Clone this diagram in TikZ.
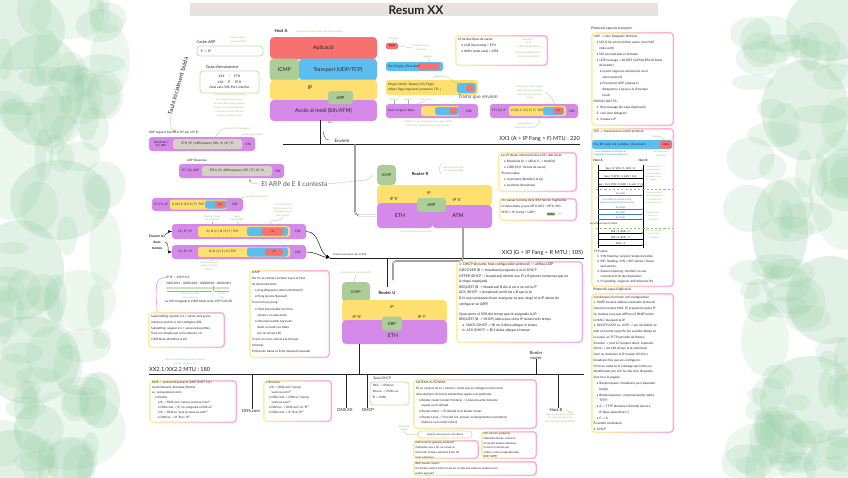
\documentclass[tikz,border=0pt]{standalone}
\usepackage{fontspec}
\setmainfont{Lato}
\usetikzlibrary{arrows.meta,positioning,calc}

\definecolor{lred}{RGB}{248,113,113}
\definecolor{lgreenf}{RGB}{172,205,152}
\definecolor{lblue}{RGB}{92,190,240}
\definecolor{lyel}{RGB}{253,224,112}
\definecolor{lpurp}{RGB}{213,137,232}
\definecolor{lgray}{RGB}{214,208,198}
\definecolor{tbar}{RGB}{233,226,224}
\definecolor{nyel}{RGB}{253,238,160}
\definecolor{npink}{RGB}{250,172,222}
\definecolor{pinkarr}{RGB}{246,150,210}
\definecolor{ngreen}{RGB}{140,195,110}
\definecolor{gborder}{RGB}{192,222,168}
\definecolor{ink}{RGB}{35,35,35}
\definecolor{seqblue}{RGB}{60,120,190}
\definecolor{wc1}{RGB}{150,205,165}
\definecolor{wc2}{RGB}{185,225,195}

\newcommand\ftitle{\fontsize{17}{17}\selectfont\bfseries}
\newcommand\flay{\fontsize{7.5}{8}\selectfont}
\newcommand\fhd{\fontsize{5.5}{6}\selectfont}
\newcommand\fbig{\fontsize{9.5}{10}\selectfont}
\newcommand\fbus{\fontsize{8}{9}\selectfont}
\newcommand\ffr{\fontsize{4.4}{5}\selectfont}
\newcommand\fgr{\fontsize{3.3}{5.2}\selectfont}
\newcommand\fseq{\fontsize{3.6}{4}\selectfont}

% marc de nota (groc -> rosa)
\newcommand\notebox[4]{%
  \shade[left color=nyel, right color=npink, rounded corners=2mm] (#1,#2) rectangle (#3,#4);
  \fill[white, rounded corners=1.5mm] ([shift={(1.5,1.5)}]#1,#2) rectangle ([shift={(-1.5,-1.5)}]#3,#4);}

\begin{document}
\begin{tikzpicture}[x=0.5mm, y=-0.5mm, >=Latex,
  layer/.style={rounded corners=2mm, inner sep=0pt, font=\flay, text=ink},
  tag/.style={font=\ffr, inner sep=0pt, text=ink},
  hd/.style={font=\fhd, inner sep=0pt, text=ink},
  body/.style={inner sep=0pt, align=left, anchor=north west, text=ink},
  gnote/.style={font=\fgr, inner sep=0pt, text=ngreen, align=center},
  gline/.style={draw=ngreen, line width=0.35pt},
  bus/.style={draw=ink, line width=1.1pt},
  rail/.style={draw=ink, line width=0.45pt, double=white, double distance=1.1pt},
  gbox/.style={draw=gborder, line width=1.1pt, rounded corners=1.5mm, fill=white},
  seq/.style={-{Latex[length=1.6pt,width=1.4pt]}, line width=0.35pt},
  pinkline/.style={draw=pinkarr, line width=0.9pt, -{Latex[length=2.5pt]}}]
\useasboundingbox (0,0) rectangle (848,477);

% fons d'aquarel.la
\begin{scope}[opacity=0.28]
\foreach \cx/\cy/\rx/\ry/\cc in {15/30/25/20/wc1, 70/15/20/12/wc2, 40/90/22/28/wc1, 10/160/18/30/wc2,
  60/200/25/20/wc1, 20/270/22/25/wc1, 80/300/18/15/wc2, 30/360/25/22/wc1, 70/430/28/20/wc2,
  15/460/20/15/wc1, 110/60/10/18/wc2, 105/250/8/20/wc2, 100/400/10/14/wc1,
  830/25/22/18/wc1, 770/40/15/12/wc2, 805/110/22/25/wc1, 845/190/18/30/wc2, 780/230/14/25/wc1,
  830/300/22/22/wc1, 765/340/12/18/wc2, 810/400/25/22/wc1, 765/450/20/14/wc2, 840/465/18/14/wc1}
  \fill[\cc] (\cx,\cy) ellipse [x radius=\rx mm, y radius=\ry mm];
\end{scope}
\pgfmathsetseed{12}
\begin{scope}[opacity=0.2]
\foreach \i in {1,...,70}{
  \pgfmathsetmacro\cx{rnd*110}
  \pgfmathsetmacro\cy{rnd*477}
  \pgfmathsetmacro\rx{3+rnd*11}
  \pgfmathsetmacro\ry{3+rnd*11}
  \fill[wc1] (\cx,\cy) ellipse [x radius=\rx mm, y radius=\ry mm];
  \pgfmathsetmacro\dx{745+rnd*103}
  \pgfmathsetmacro\dy{rnd*477}
  \fill[wc1] (\dx,\dy) ellipse [x radius=\ry mm, y radius=\rx mm];
}
\end{scope}

% titol
\fill[tbar] (190,3) rectangle (658,16);
\node[font=\ftitle, text=ink, inner sep=0pt] (title) at (416,10) {Resum XX};

% ---------------- Host A
\node[hd, font=\fontsize{6}{6}\selectfont\bfseries] (hostA) at (281,31) {Host A};
\node[gnote, anchor=west] (nhostA) at (296,32) {Host està en la xarxa XX1 i vol enviar a Host F};
\node[layer, fill=lred, minimum width=53.5mm, minimum height=11mm] (apl) at (323.5,48) {Aplicació};
\node[layer, fill=lgreenf, minimum width=15mm, minimum height=11mm] (icmpA) at (284.5,69.5) {ICMP};
\node[layer, fill=lblue, minimum width=39mm, minimum height=11mm] (tra) at (338,69.5) {Transport (UDP/TCP)};
\node[layer, fill=lyel, minimum width=53.5mm, minimum height=10.5mm] (ipA) at (323.5,90) {};
\node[layer] (ipAt) at (310,88) {IP};
\node[layer, fill=lpurp, minimum width=53.5mm, minimum height=10.5mm] (acc) at (323.5,110.5) {Accés al medi (Eth/ATM)};
\node[layer, fill=lgreenf, rounded corners=1.5mm, minimum width=12.5mm, minimum height=6.5mm, font=\fontsize{6}{6}\selectfont] (arpA) at (340.5,97.5) {ARP};

% bus XX1
\coordinate (b1w) at (283,144);
\coordinate (b1e) at (580,144);
\coordinate (accs) at (320,120);
\draw[bus] (b1w) -- (b1e);
\draw[bus] (accs) -- (accs |- b1w);
\node[tag, font=\fontsize{3.8}{4}\selectfont] (ens) at (330,123) {ens};
\draw[ink, line width=0.4pt] (323,131) to[out=-80,in=180] (329,140);
\node[tag, font=\fontsize{6.5}{7}\selectfont] (envien) at (342,141) {Enviem};
\node[tag, font=\fbus, anchor=east] (xx1) at (580,138.5) {XX1 (A > IP Fang > F) MTU : 220};

% ---------------- capcaleres (mig superior)
\node[fill=lred, rounded corners=0.8mm, inner sep=0pt, minimum width=6mm, minimum height=3.2mm, font=\fontsize{3.8}{4}\selectfont] (dada) at (392,46) {Dada};
\node[gnote] (nmis) at (394,39) {Missatge};
\draw[gline] (nmis.south) -- (dada.north);
\node[gnote] (ndada) at (421,48) {Dada de la capa\\d'aplicació};
\draw[gline] (ndada.west) to[out=180,in=0] (dada.east);

\fill[lblue, rounded corners=1.2mm] (386,62) rectangle (443,71);
\fill[lred, rounded corners=1mm] (418,63) rectangle (440,70);
\node[tag, anchor=west] (ports) at (388,66.5) {Port Origen | Port destí};
\node[gnote] (nseg) at (428,57) {Segment};
\draw[gline] (nseg.south) -- (430,62);

\fill[lyel, rounded corners=1.5mm] (386,80) rectangle (478,95);
\fill[lblue, rounded corners=1.2mm] (457,83) rectangle (476,93);
\fill[lred, rounded corners=1mm] (466,85) rectangle (474,91);
\node[tag, anchor=west, align=left, font=\fontsize{4.3}{7}\selectfont] (ipcap) at (388,87.5) {Origen | destí | Tamany | ID | Flags |\\offset | flags fragments | protocol | TTL |};
\node[gnote] (ndgr) at (440,77) {Datagrama};
\draw[gline] (ndgr.east) to[out=0,in=-90] (458,82);

\node[gnote] (nmacd) at (394,99.5) {MAC D};
\node[gnote] (nmaco) at (408,99.5) {MAC O};
\node[gnote] (ntip) at (426,99.5) {tipus trama};
\fill[lpurp, rounded corners=1.5mm] (386,104) rectangle (478,118);
\fill[lyel, rounded corners=1.2mm] (421,106) rectangle (459,116);
\fill[lblue, rounded corners=1.2mm] (435,107) rectangle (459,115);
\fill[lred, rounded corners=1mm] (450,108) rectangle (457,114);
\node[tag, anchor=west] (ethcap) at (388,111) {Dest | origen | tipus};
\node[tag] (crc1) at (469,111) {CRC};
\draw[gline] (nmacd.south) -- (394,104);
\draw[gline] (nmaco.south) -- (408,104);
\draw[gline] (ntip.south) -- (417,104);
\node[gnote] (narp) at (428,124) {Si l'ARP surt, han de preguntar per saber la MAC\\de la trama i després poder enviar la trama};
\node[tag, font=\fontsize{7}{7}\selectfont, text=ink!80] (trenv) at (478,97.5) {Trama que enviem};

% dos tipus de xarxa
\notebox{455}{35}{548}{66}
\node[body, font=\fontsize{4.6}{8.5}\selectfont] (xarxes) at (458,38) {Hi ha dos tipus de xarxa:\\\quad• LAN (local area) = ETH\\\quad• WAN (wide area) = ATM};
\node[gnote, anchor=north] (nfan) at (528,38.5) {Fan servir:\\- la IP\\- la MAC de destinació};
\node[gnote, anchor=north] (nper) at (528,52) {Per tenir la MAC de la IP\\destí fan servir l'ARP};

% trama fragmentada (dreta)
\node[gnote] (nmtu) at (530,92.5) {Com que MTU XX1 origen <\\dada, s'ha de fragmentar:\\supera el més petit de les\\xarxes};
\fill[lpurp, rounded corners=1.5mm] (490,104) rectangle (578,118);
\fill[lyel, rounded corners=1.2mm] (509,106) rectangle (566,116);
\fill[lblue, rounded corners=1.2mm] (543,107) rectangle (564,115);
\fill[lred, rounded corners=1mm] (553,108) rectangle (563,114);
\node[tag] (ffr) at (499,111) {FF | Fa | IP};
\node[tag] (abcr) at (527,111) {A | B | C | D | E | F | TCP};
\node[tag, font=\fontsize{3.5}{4}\selectfont] (ddr) at (558,111) {dd};
\node[tag] (crcr) at (572,111) {CRC};
\draw[gline] (nmtu.east) to[out=0,in=-90] (558,107);
\node[gnote] (ntrd) at (525,125.5) {Trama de dades\\(sense tocar res fora)};
\draw[gline] (ntrd.east) to[out=0,in=-90] (540,118);

% ---------------- taules (esquerra)
\node[hd] (cachel) at (206,42) {Cache ARP};
\draw[gbox] (197,46) rectangle (263,56);
\node[tag, anchor=west] (cache) at (200,51) {'E' -> PF};
\node[gnote] (ncache) at (238,40) {Aquí les que ja\\coneixem (MAC)};

\node[hd] (tenrl) at (222,67) {Taula d'enrutament};
\draw[gbox] (200,71) rectangle (259,93);
\node[tag, align=center, font=\fontsize{4.6}{8.5}\selectfont] (tenr) at (229.5,82) {XX1 \quad * \quad ETH\\XX1 \quad 'E' \quad ETH\\Dest xarx, MS/Port, interfac};
\node[gnote, anchor=north, font=\fontsize{3.3}{6}\selectfont] (ntenr) at (229.5,94) {Si el host no està en la mateixa\\xarxa XX1, la trama s'envia\\al router de la xarxa (gateway)\\segons la taula d'enrutament;\\com que no sap la MAC del\\router fa un ARP request};

\node[tag, font=\fontsize{8.5}{9}\selectfont, rotate=74] (tbuida) at (178,86) {Taula inicialment buida};
\draw[gline, ->] (tbuida.west) to[out=-80,in=180] (177,131);

% ARP request
\node[tag, anchor=west] (arpreql) at (149,133) {ARP request (Qui té la IP? per a IP E)};
\node[gnote] (nqui) at (237,129) {Qui té la IP E? (broadcast)};
\draw[gline] (nqui.west) to[out=180,in=-90] (214,137);
\node[gnote] (ntrl) at (253,135) {Trama capa d'enllaç};
\draw[gline] (ntrl.west) to[out=180,in=-90] (241,139);
\fill[lpurp, rounded corners=1.5mm] (149,137) rectangle (255,151);
\fill[lgray, rounded corners=1.2mm] (173,139) rectangle (242,149);
\node[tag, align=center, font=\fontsize{4}{5}\selectfont] (bcast) at (161,144) {Broadcast |\\Fa | ARP};
\node[tag] (arpreq) at (207.5,144) {ETH | IP | ARPrequest | IPA | 'A' | IP | 'E'};
\node[tag] (crcq) at (248.5,144) {CRC};

% ARP response
\node[tag] (arprespl) at (197,161) {ARP Response};
\fill[lpurp, rounded corners=1.5mm] (179,164) rectangle (284,178);
\fill[lgray, rounded corners=1.2mm] (202,166) rectangle (272,176);
\node[tag] (ffarp) at (190.5,171) {FF | Fa | ARP};
\node[tag] (arpresp) at (237,171) {ETH | IP | ARPresponse | IPE | 'E' | IP | 'A'};
\node[tag] (crcp) at (278,171) {CRC};
\node[tag, font=\fbig, text=ink!75] (elarp) at (294.5,184) {El ARP de E li contesta};
\draw[gline, ->] (elarp.west) to[out=180,in=-90] (250,178.5);
\draw[gline] (elarp.east) -- (366,180) to[out=0,in=-120] (372,175);
\node[gnote, anchor=west] (ngu) at (443,169) {Guarda la MAC de E\\a la seva taula ARP};
\draw[gline] (441,164) to[out=-120,in=120] (441,174);

% trames IP
\fill[lpurp, rounded corners=1.5mm] (152,198) rectangle (243,211);
\fill[lyel, rounded corners=1.2mm] (170,199.5) rectangle (227,209.5);
\fill[lblue, rounded corners=1.2mm] (205,200.5) rectangle (227,208.5);
\fill[lred, rounded corners=1mm] (215,201.5) rectangle (225,207.5);
\node[tag] (ip6) at (161,204.5) {IP | Fa | IP};
\node[tag] (abc6) at (188,204.5) {A | B | C | D | E | F | TCP};
\node[tag, font=\fontsize{3.5}{4}\selectfont] (dd6) at (220,204.5) {dd};
\node[tag] (crc6) at (235,204.5) {CRC};
\node[gnote] (napl) at (259,196.5) {dada a l'Aplicació};
\draw[gline] (napl.west) to[out=180,in=0] (227,201);

\node[gnote] (nfrag) at (283,210) {Com la MTU de la\\XX3 és menor, s'ha\\de fragmentar en\\dues trames};
\draw[gline] (nfrag.south) to[out=-90,in=90] (270,224);
\node[gnote] (ncap) at (212,218.5) {Capçalera IP per\\cada fragment};
\draw[gline] (ncap.south) -- (212,226);
\node[gnote] (ndfr) at (237,218.5) {dada\\fragmentada};
\draw[gline] (ndfr.south) -- (240,226);

\fill[lpurp, rounded corners=1.5mm] (172,224) rectangle (306,239);
\fill[lyel, rounded corners=1.2mm] (198,226) rectangle (290,237);
\fill[lblue, rounded corners=1.2mm] (247,227) rectangle (288,236);
\fill[lred, rounded corners=1mm] (262,228) rectangle (283,235);
\node[tag] (ip7) at (185,231.5) {Fa | IP | IP};
\node[tag] (abc7) at (222.5,231.5) {A | B | C | D | E | F | TCP};
\node[tag, font=\fontsize{3.5}{4}\selectfont] (dd7) at (272.5,231.5) {dd};
\node[tag] (crc7) at (298,231.5) {CRC};

\fill[lpurp, rounded corners=1.5mm] (172,245) rectangle (306,259);
\fill[lyel, rounded corners=1.2mm] (198,247) rectangle (290,257);
\fill[lblue, rounded corners=1.2mm] (247,247.5) rectangle (288,256.5);
\fill[lred, rounded corners=1mm] (265,248.5) rectangle (283,255.5);
\node[tag] (ip8) at (185,252) {Fa | IP | IP};
\node[tag] (abc8) at (222.5,252) {A | B | C | 1 | A | TCP};
\node[tag, font=\fontsize{3.5}{4}\selectfont] (dd8) at (274,252) {dd};
\node[tag] (crc8) at (298,252) {CRC};
\node[gnote] (nid) at (209,266) {Fragments amb la\\mateixa ID i offset\\diferent};
\draw[gline] (nid.north) to[out=90,in=-90] (214,259);

\coordinate (f7w) at (172,231.5);
\coordinate (f8w) at (172,252);
\coordinate (f7e) at (306,231.5);
\coordinate (f8e) at (306,252);
\node[tag, align=center, font=\fontsize{4.8}{8.5}\selectfont\bfseries] (enviem) at (157,242) {Enviem les\\dues\\trames};
\draw[->, line width=0.5pt] (enviem.north east) to[out=20,in=180] (f7w);
\draw[->, line width=0.5pt] (enviem.east) to[out=-10,in=180] (f8w);

% bus XX3
\coordinate (join) at (330,258);
\coordinate (b2e) at (584,258);
\draw[bus] (join) -- (b2e);
\draw[->, line width=0.6pt] (f7e) to[out=0,in=150] (join);
\draw[->, line width=0.6pt] (f8e) to[out=0,in=170] (join);
\node[tag, anchor=west, font=\fontsize{3.6}{4}\selectfont] (trpas) at (333,254.5) {Trames que passen per la XX3};
\node[tag, font=\fbus, anchor=east] (xx3) at (583,252.5) {XX3 (G > IP Fang > R MTU : 105)};

% ---------------- Router R
\draw[rail, rounded corners=2mm] (355,144) |- (377,215.5);
\node[layer, fill=lgreenf, minimum width=9.5mm, minimum height=10mm, font=\fontsize{5.5}{6}\selectfont] (icmpR) at (386.5,175) {ICMP};
\node[tag, font=\fontsize{6}{6}\selectfont\bfseries] (routR) at (420,174) {Router R};
\node[layer, fill=lyel, minimum width=57.5mm, minimum height=10.5mm] (ipR) at (434.5,195.5) {};
\node[layer, fill=lpurp, minimum width=28mm, minimum height=12.5mm] (ethR) at (405,215.5) {};
\node[layer, fill=lpurp, minimum width=30mm, minimum height=11.5mm] (atmR) at (462,216.5) {};
\node[layer, fill=lgreenf, rounded corners=1.5mm, minimum width=14.5mm, minimum height=7mm, font=\fontsize{6}{6}\selectfont] (arpR) at (431.5,205) {ARP};
\node[tag, font=\fontsize{5.5}{6}\selectfont] (ipRa) at (394,199) {IP 'E'};
\node[tag, font=\fontsize{5.5}{6}\selectfont] (ipRt) at (429,193.5) {IP};
\node[tag, font=\fontsize{5.5}{6}\selectfont] (ipRb) at (457,200) {IP 'X'};
\node[layer] (ethRt) at (400,216) {ETH};
\node[layer] (atmRt) at (458,216) {ATM};
\node[gnote] (ncanvi) at (416,231.5) {Pot canviar el tipus de la trama};
\coordinate (atmout) at (463,228);
\draw[rail, rounded corners=1.5mm] (atmout) -- (463,261) -- (393,261) -- (393,280);

% ---------------- Router U
\draw[bus] (387,258) -- (387,287);
\node[gnote] (nru) at (356,273) {El router U no coneix la MAC};
\draw[gline] (nru.south) to[out=-90,in=90] (354,282);
\node[layer, fill=lgreenf, minimum width=14mm, minimum height=10mm, font=\fontsize{5.5}{6}\selectfont] (icmpU) at (356,292) {ICMP};
\node[tag, font=\fontsize{6}{6}\selectfont\bfseries] (routU) at (387,293) {Router U};
\node[layer, fill=lyel, minimum width=52.5mm, minimum height=11mm] (ipU) at (394.5,311) {};
\node[layer, fill=lpurp, minimum width=52.5mm, minimum height=12mm] (ethU) at (394.5,332) {};
\node[layer, fill=lgreenf, rounded corners=1.5mm, minimum width=10mm, minimum height=7mm, font=\fontsize{6}{6}\selectfont] (arpU) at (392,323.5) {ARP};
\node[tag, font=\fontsize{5.5}{6}\selectfont] (ipUa) at (357,317) {IP 'H'};
\node[tag, font=\fontsize{5.5}{6}\selectfont] (ipUt) at (392,307) {IP};
\node[tag, font=\fontsize{5.5}{6}\selectfont] (ipUb) at (422,317) {IP 'Y'};
\node[layer] (ethUt) at (393,336) {ETH};
\coordinate (ethUs) at (359,344);

% bus XX2
\coordinate (b3w) at (149,374);
\coordinate (b3e) at (584,374);
\draw[bus] (b3w) -- (b3e);
\draw[bus] (ethUs) -- (ethUs |- b3w);
\node[tag, font=\fbus, anchor=west] (xx2) at (149,369.5) {XX2.1/XX2.2 MTU : 180};
\node[gnote] (nxx2) at (185,361.5) {Xarxa a la que està connectat el host B\\(a través del router U)};
\node[tag, font=\fontsize{6}{6}\selectfont] (dnscom) at (251,410.5) {DNS.com};
\node[tag, font=\fontsize{6}{6}\selectfont] (dnsxx) at (345,409.5) {DNS.XX};
\node[tag, font=\fontsize{6}{6}\selectfont] (dhcp) at (368,409.5) {DHCP};
\node[tag, font=\fontsize{6}{7}\selectfont, align=center] (border) at (536,355) {Border\\router};
\node[tag, font=\fontsize{6}{6}\selectfont] (hostB) at (556,409.5) {Host B};
\draw[bus] (dnscom.north -| 252,0) -- (252,374);
\draw[bus] (dnsxx.north -| 346,0) -- (346,374);
\draw[bus] (dhcp.north -| 367,0) -- (367,374);
\draw[bus] (border.south -| 536,0) -- (536,374);
\draw[bus] (hostB.north -| 558,0) -- (558,374);
\node[gnote] (nhb) at (560,418) {Quan es connecta a la xarxa\\no sap la seva IP, ha de\\demanar-la al servidor DHCP};
\draw[gline] (567,410) to[out=-60,in=180] (573,413);

% ---------------- adreces IP
\node[tag, anchor=west] (ipB) at (166,277.5) {IP 'B' = 139.9.0.9};
\node[tag, anchor=west] (ipbin) at (166,283.5) {10001011 . 00001001 . 00000000 . 00001001};
\fill[ngreen!45] (166,286.8) rectangle (229,289);
\draw[gline] (213,285.5) -- (213,291);
\draw[gline] (167,291.5) -- (212,291.5);
\draw[gline] (214,291.5) -- (229,291.5);
\node[gnote] (nbx) at (190,295.5) {bits de xarxa (20)\\que ja estaven};
\node[gnote] (nbh) at (222,295.5) {bits de\\host};
\node[tag, anchor=west] (cidr) at (165,302) {La XX1 (original) al CIDR block seria 139.9.0.0/20};
\draw[pinkline] (157,312) to[out=90,in=180] (ipB.west);

\notebox{148}{312}{225}{348}
\node[body, font=\fontsize{4.3}{8.3}\selectfont] (super) at (151,315) {Supernetting: ajuntar 2 o + xarxes més grans,\\només es pot fer si són contigües (XX).\\Subnetting: separar 2 o + xarxes més petites.\\Tenir en compte que cal la màscara i el\\CIDR block identifica la XX.};

% ICMP
\notebox{249}{270}{330}{358}
\node[body, font=\fontsize{4.3}{8.7}\selectfont] (icmpn) at (252,271) {ICMP\\Per fer el control, l'emissor sap si el host\\de destí està actiu:\\\quad• ping (disposat a rebre informació?)\\\quad• Pong (si està disposat)\\Si no hi ha un pong:\\\quad• Host inaccessible (no hi ha\\\quad\phantom{•} temps o no està actiu)\\\quad• Net inaccessible (xarxa de\\\quad\phantom{•} destí, el router no troba\\\quad\phantom{•} per on enviar a B)\\Si surt un error, s'envia a la font per\\informar.\\El tipus de trama és Echo (request/resposta)};

% DNS
\notebox{149}{380}{237}{423}
\node[body, font=\fontsize{4.3}{7.1}\selectfont] (dns) at (152,381.5) {DNS -> protocol d'aplicació (UDP, PORT 53) i\\Local Demand, Jerarquia/Domini\\e.j. www.jamesxx.com\\\quad• Iteratiu\\\qquad• B -> DNS.com "sera ip www.xx.com?"\\\qquad• DNS.com -> B "no, pregunta a DNS.xx"\\\qquad• B -> DNS.xx "sera ip www.xx.com?"\\\qquad• DNS.xx -> B "B és 'IP'"};
\notebox{263}{380}{332}{422}
\node[body, font=\fontsize{4.3}{7.1}\selectfont] (dnsrec) at (266,381.5) {• Recursiu\\\quad• B -> DNS.com "sera ip\\\quad\phantom{•} www.xx.com?"\\\quad• DNS.com -> DNS.xx "sera ip\\\quad\phantom{•} www.xx.com?"\\\quad• DNS.xx -> DNS.com "és 'IP'"\\\quad• DNS.com -> B "B és 'IP'"};

% taula DHCP
\node[hd, font=\fontsize{4.8}{5}\selectfont] (tdhcpl) at (382,378.5) {Taula DHCP};
\draw[gbox] (370,382) rectangle (409,405);
\node[body, font=\fontsize{4.2}{8.3}\selectfont] (tdhcp) at (372,384) {'XX2' -> IP.Xarxa\\'Dns.xx' -> IP.Dns.xx\\'B' -> IP.Rb};

% sistema autonom
\notebox{413}{379}{537}{429}
\node[body, font=\fontsize{4.3}{8.1}\selectfont] (sa) at (416,381) {SISTEMA AUTÒNOM:\\És un conjunt de xx, i routers / hosts que es configuren tots locals\\d'enrutament, de forma automàtica segons uns protocols.\\\quad• Border router (router frontera) -> Connecta amb l'exterior,\\\quad\phantom{•} aquest no té default.\\\quad• Router intern -> El default és el border router\\\quad• Router Local -> Fora del S.A. perquè no implementen el protocol,\\\quad\phantom{•} (defecte a un router intern)};
\draw[gbox, line width=0.8pt] (418,431) rectangle (472,438);
\node[gnote, text=ink, font=\fontsize{3.5}{4}\selectfont] (pill) at (445,434.5) {taula de rutes (xarxes i interfícies)};
\node[gnote] (nstr) at (404,428) {Sistema de\\la taula};
\draw[gline] (nstr.south) to[out=-90,in=180] (418,434.5);
\notebox{413}{440}{479}{459}
\node[body, font=\fontsize{3.9}{6.8}\selectfont] (egp) at (415.5,441.5) {EGP (exterior gateway protocol):\\Optimitza ruta a fer, no coneix la\\forma del sistema autònom (Link, ID\\rutes externes)};
\notebox{481}{431}{537}{459}
\node[body, font=\fontsize{3.9}{6.6}\selectfont] (igp) at (483.5,432.5) {IGP (interior gateway):\\Optimitza temps, coneix la\\forma del sistema autònom.\\Fa servir el temps per\\arribar i rutes congestionades\\(RIP, OSPF)};
\notebox{413}{461}{537}{476}
\node[body, font=\fontsize{3.9}{6.6}\selectfont] (bgp) at (415.5,462.5) {BGP (border router):\\Els border routers informen de les xx dels dos sistemes autònoms (es\\poden agrupar)};

% ---------------- notes (dreta mig)
\notebox{498}{152}{577}{192}
\node[body, font=\fontsize{4.4}{8.3}\selectfont] (ipinfo) at (501,154.5) {Les IP donen informació de la XX i dels hosts:\\\quad• Broadcast (0 -> all(1s), 0 -> host(0s))\\\quad• CIDR (IP/nº de bits de xarxa)\\IP reservades:\\\quad• La primera (identifica la xx)\\\quad• La última (broadcast)};
\notebox{499}{198}{577}{221}
\node[body, font=\fontsize{4.4}{8.3}\selectfont] (mtun) at (501.5,199.5) {Per passar la trama de la XX3 han de fragmentar\\la trama dada, ja que MTU XX3 < MTU XX1.\\MTU = Nº trama + UDP +};
\node[fill=lgreenf, rounded corners=0.8mm, inner sep=0.8pt, font=\ffr] (dadesp) at (551,214) {dades};
\node[gnote, anchor=west] (ndp) at (558,214) {(ok)};

% DHCP
\notebox{456}{261}{583}{343}
\node[body, font=\fontsize{4.9}{8}\selectfont] (dhcpn) at (459,263) {1. DHCP (dynamic host configuration protocol) -> utilitza UDP\\DISCOVER (B -> broadcast) pregunta si és el DHCP\\OFFER (DHCP -> broadcast) ofereix una IP a B (primer comprova que no\\la tingui mapejada)\\REQUEST (B -> broadcast) B diu si vol o no vol la IP\\ACK (DHCP -> broadcast) confirma a B que la té\\B fa una comprovació per assegurar-se que ningú té la IP abans de\\configurar-se (ARP)\\[6pt]Quan porta el 50\% del temps que té assignada la IP:\\REQUEST (B -> DHCP) indica que vol la IP durant més temps\\\quad a. NACK (DHCP -> B) no li deixa allargar el temps\\\quad b. ACK (DHCP -> B) li deixa allargar el temps};

% ---------------- columna dreta: transport
\node[hd, anchor=west, font=\fontsize{4.8}{5}\selectfont] (ptrl) at (591,29) {Protocols capa de transport};
\notebox{591}{32}{674}{126}
\node[body, font=\fontsize{4.4}{8.4}\selectfont] (udp) at (593.5,35) {UDP -> User Datagram Protocol.\\\quad• NO hi ha ack (ni arriben quan i com (NAT\\\quad\phantom{•} mola sort))\\\quad• NO són ordenats a l'arribada\\\quad• UDP message = 48 BITS CAPÇALERA (8 bytes\\\quad\phantom{•} de header)\\\qquad• el port origen és opcional (si no el\\\qquad\phantom{•} volem posar 0)\\\qquad• El protocol UDP prepara el\\\qquad\phantom{•} datagrama i li passa a la IP perquè\\\qquad\phantom{•} l'enviï\\PASSOS QUE FA:\\\quad 1. Rep missatge (de capa d'aplicació)\\\quad 2. crea User datagram\\\quad 3. li passa a IP};

\notebox{591}{128}{674}{287}
\node[body, font=\fontsize{4.4}{5}\selectfont] (tcph) at (593.5,130.5) {TCP -> transmission control protocol.};
\fill[lblue, rounded corners=1.2mm] (592,140) rectangle (672,149);
\fill[lred, rounded corners=1mm] (660,140.5) rectangle (672,148.5);
\node[tag, anchor=west, font=\fontsize{4.2}{5}\selectfont] (tcpseg) at (594,144.5) {Po | Pd | seq | ack | window | checksum |};
\node[tag, font=\fontsize{4.2}{5}\selectfont] (tcpdata) at (666,144.5) {data};
\node[gnote] (ntr) at (655,136.5) {Trama};
\draw[gline] (ntr.east) to[out=0,in=90] (664,140);
\node[gnote, anchor=west, text=seqblue] (nseg2) at (594,153.5) {Si un missatge és molt gran es\\fragmenta i numera els segments};
\node[gnote] (nvol) at (661,153.5) {Les dades que\\vol enviar};

\node[tag, font=\fontsize{4.2}{5}\selectfont\bfseries] (thA) at (598,160) {Host A};
\node[tag, font=\fontsize{4.2}{5}\selectfont\bfseries] (thB) at (643,160) {Host B};
\coordinate (lA) at (598,165);
\coordinate (lB) at (643,165);
\draw[line width=1pt] (lA) -- ++(0,83);
\draw[line width=1pt] (lB) -- ++(0,83);
\foreach \yy/\tt in {170/{Seq = X, SYN = 1, ACK = 0}, 186/{Seq = X+1, SYN = 0, ACK = 1, ack = Y+1}}
  \draw[seq] (598,\yy) -- node[above=0.3pt, font=\fseq, inner sep=0pt] {\tt} (643,\yy);
\draw[seq] (643,178) -- node[above=0.3pt, font=\fseq, inner sep=0pt] {Seq = Y, SYN = 1, ACK = X+1} (598,178);
\draw[gline, dashed] (596,189) -- (672,189);
\foreach \yy/\tt in {195/{Ex petit}, 209/{Ex mitjà}, 214/{Ex mitjà}, 219/{Ex mitjà}}
  \draw[seq, seqblue] (598,\yy) -- node[above=0.2pt, font=\fseq, inner sep=0pt, text=seqblue] {\tt} (643,\yy);
\node[gnote, anchor=west, text=seqblue] (nack) at (600,201.5) {Si un ACK no arriba a la font,\\passat un temps ho torna a enviar};
\node[tag, anchor=west, font=\fseq] (nsuf) at (590,224) {Ex suficient que fa cabre};
\draw[gline, dashed] (596,228) -- (672,228);
\draw[seq] (598,233) -- node[above=0.3pt, font=\fseq, inner sep=0pt] {FIN = 1, ACK = 1} (643,233);
\draw[seq] (643,239) -- node[above=0.3pt, font=\fseq, inner sep=0pt] {FIN = 1, ACK = 1} (598,239);
\draw[seq] (598,245) -- node[above=0.3pt, font=\fseq, inner sep=0pt] {ACK = 1} (643,245);
\node[gnote, anchor=north west, font=\fontsize{3}{4.6}\selectfont] (nest) at (646,166) {Establiment de\\connexió (three\\way handshake)\\per poder enviar\\dades};
\node[gnote, anchor=north west, font=\fontsize{3}{4.6}\selectfont] (nfin) at (646,192) {Finestra de mida\\variable segons la\\congestió de la\\xarxa (slow start)};
\node[gnote, anchor=north west, font=\fontsize{3}{4.6}\selectfont] (nflux) at (646,212) {Control de flux\\quan hi ha\\congestió};
\node[gnote, anchor=north west, font=\fontsize{3}{4.6}\selectfont] (nfi) at (646,230) {Fi de la connexió:\\els dos l'han\\d'acceptar};
\node[body, font=\fontsize{4.3}{7.1}\selectfont] (atacs) at (594,250) {TCP atacs:\\\quad 1. SYN flooding: omplen l'ample de banda\\\quad 2. RST flooding: SYN + RST alertes i forcen\\\quad\phantom{2. }tancaments.\\\quad 3. Session hijacking: interferir en una\\\quad\phantom{3. }comunicació de dos dispositius\\\quad 4. IP spoofing: enganyar amb diferents IPs};

% aplicacio
\node[hd, anchor=west, font=\fontsize{4.8}{5}\selectfont] (papl) at (593,289.5) {Protocols capa d'aplicació};
\notebox{591}{293}{674}{433}
\node[body, font=\fontsize{4.4}{8.2}\selectfont] (appn) at (593.5,295.5) {Inicialització d'un host: self configuration\\1. RARP (reverse address resolution protocol)\\Donant la nostra MAC (F) preguntem quina IP\\té, mateixa cosa que ARP (en el RARP) tenim\\la MAC i busquem la IP.\\2. BOOTP (UDP, ex. UDP) -> per inicialitzar-se\\amb un format específic (un servidor Bootp en\\la xarxa), un TFTP (servidor de fitxers).\\Servidor -> port 67 (sempre obert, esperant)\\Client -> port 68 (el que fa la sol·licitud)\\Com no coneixem la IP enviem 0.0.0.0 a\\broadcast, fins que ens configuren.\\Hi ha un camp en el missatge que indica un\\identificador per si hi ha més d'un dispositiu\\fent-ho a la vegada.\\\quad• Bootp request / broadcast, per respondre\\\quad\phantom{•} bootp)\\\quad• Bootp response / response bootp, indica\\\quad\phantom{•} TFTP)\\\quad• A -> TFTP (demana el format) (envia a\\\quad\phantom{•} IP tipus especificat C.)\\\quad• C -> A\\És estàtic no dinàmic\\3. DHCP};
\end{tikzpicture}
\end{document}
